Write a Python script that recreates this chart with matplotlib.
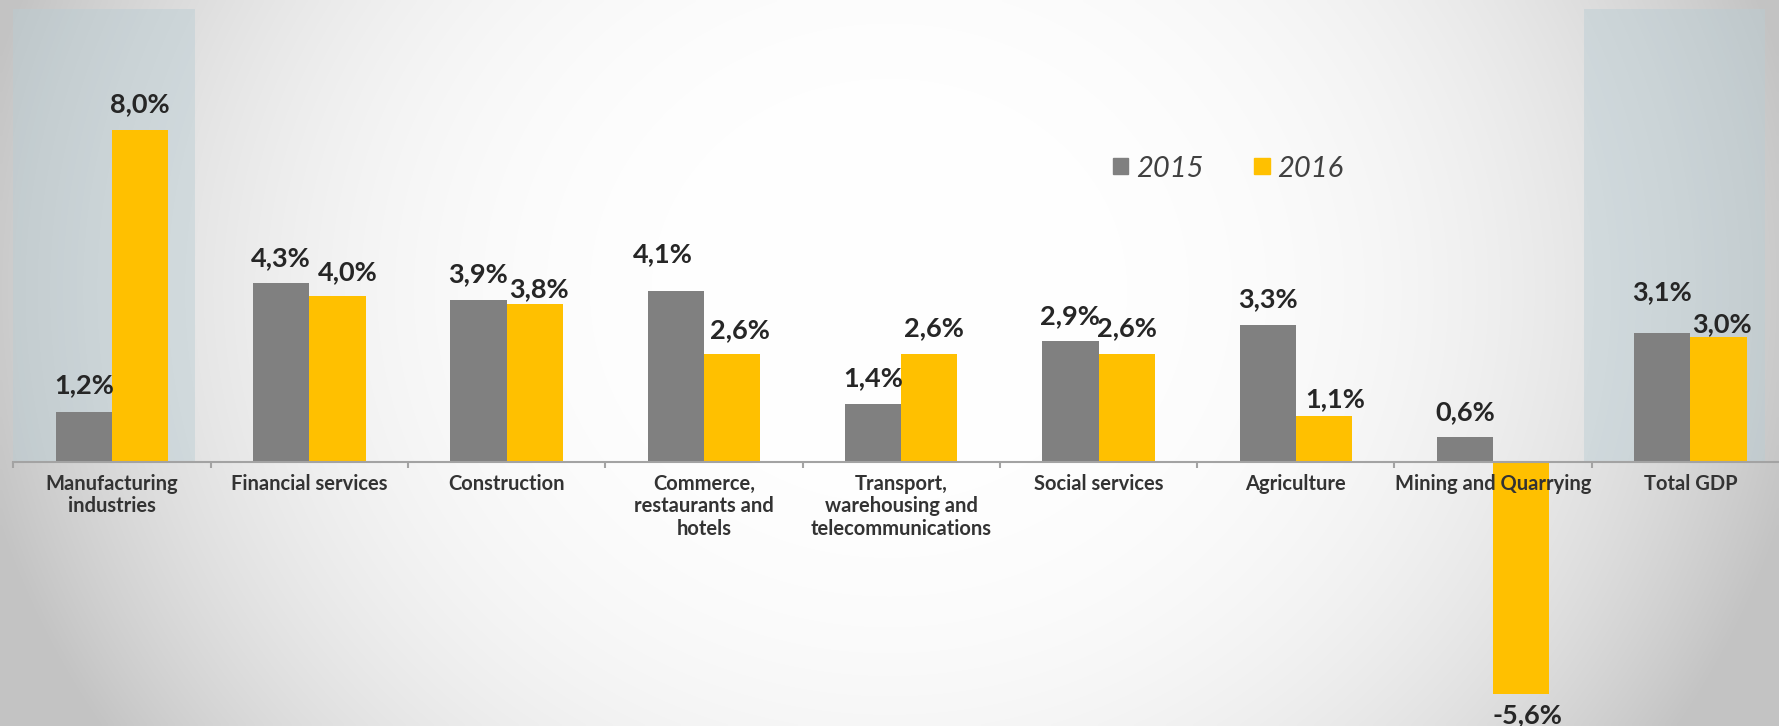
import matplotlib.pyplot as plt
import numpy as np
from matplotlib.patches import Patch, Rectangle
from matplotlib.ticker import FixedLocator

plt.rcParams["font.family"] = ["Lato", "DejaVu Sans"]

categories = [
    "Manufacturing\nindustries",
    "Financial services",
    "Construction",
    "Commerce,\nrestaurants and\nhotels",
    "Transport,\nwarehousing and\ntelecommunications",
    "Social services",
    "Agriculture",
    "Mining and Quarrying",
    "Total GDP",
]
growth_2015 = [1.2, 4.3, 3.9, 4.1, 1.4, 2.9, 3.3, 0.6, 3.1]
growth_2016 = [8.0, 4.0, 3.8, 2.6, 2.6, 2.6, 1.1, -5.6, 3.0]
years = ["2015", "2016"]
highlighted = [0, 8]

# layout (pixels) -- labels were nudged by hand in the original
off_2015 = [(0, 19), (0, 17), (0, 18), (-13, 29), (0, 17), (0, 17), (0, 18), (0, 17), (0, 33)]
off_2016 = [(0, 17.5), (10, 15), (4, 7), (8, 16), (5, 18), (0, 18), (11, 9), (6, -29), (3, 5)]
hl_span = [(-0.5, 0.42), (-0.54, 0.38)]

W, H = 1779, 726
cat_px, x0_px = 197.3, 112.0   # category width, centre of first category
zero_px, unit_px = 461.6, 41.5  # y of zero line, pixels per 1 %

gray, yellow = "#808080", "#FFC000"
txt = "#262626"

fig = plt.figure(figsize=(W / 100, H / 100), dpi=100)

# vignette background
bg = fig.add_axes([0, 0, 1, 1], zorder=-5)
xx, yy = np.meshgrid(np.linspace(0, 1, 400), np.linspace(0, 1, 200))
dx = (xx - 0.5) / 0.5
dy = (yy - 0.4) / 0.6
r = np.sqrt(dx**2 + 0.3 * dy**2)
v = (255 - 52 * np.minimum(r**3, 1.15)) / 255
bg.imshow(np.dstack([v, v, v]), extent=[0, 1, 1, 0], aspect="auto", interpolation="bilinear")
bg.axis("off")

ax = fig.add_axes([0, 0, 1, 1])
ax.patch.set_visible(False)
xl = -x0_px / cat_px
ax.set_xlim(xl, xl + W / cat_px)
ax.set_ylim(-(H - zero_px) / unit_px, zero_px / unit_px)

x = np.arange(len(categories))
bw = 0.285

# highlight boxes
for i, (a, b) in zip(highlighted, hl_span):
    ax.add_patch(Rectangle((i + a, 0), b - a, (zero_px - 9) / unit_px,
                           facecolor="#b9cdd4", alpha=0.45, edgecolor="none", zorder=0))

ax.bar(x - bw / 2, growth_2015, bw, color=gray, zorder=1, label=years[0])
ax.bar(x + bw / 2, growth_2016, bw, color=yellow, zorder=1, label=years[1])

def fmt(v):
    return f"{v:.1f}%".replace(".", ",")

for xs, vals, offs in [(x - bw / 2, growth_2015, off_2015), (x + bw / 2, growth_2016, off_2016)]:
    for xi, v, (ox, oy) in zip(xs, vals, offs):
        ax.annotate(fmt(v), (xi, v), xytext=(ox, oy), textcoords="offset pixels",
                    ha="center", va="baseline", fontsize=19.5, fontweight="bold",
                    color=txt, zorder=5)

# axis
for s in ["left", "right", "top"]:
    ax.spines[s].set_visible(False)
ax.spines["bottom"].set_position(("data", 0))
ax.spines["bottom"].set_bounds(-0.5, len(categories) + 0.5)
ax.spines["bottom"].set_color("#a3a3a3")
ax.spines["bottom"].set_linewidth(1.5)
ax.spines["bottom"].set_zorder(3)
ax.xaxis.set_zorder(4)
ax.set_yticks([])
ax.set_xticks(x)
ax.set_xticklabels(categories, fontsize=14.5, fontweight="bold", color="#333333", linespacing=1.15)
ax.tick_params(axis="x", which="major", length=0, pad=9)
ax.xaxis.set_minor_locator(FixedLocator(np.arange(len(categories) + 1) - 0.5))
ax.tick_params(axis="x", which="minor", length=4, width=1.5, color="#a3a3a3", direction="out")

handles = [Patch(color=gray), Patch(color=yellow)]
ax.legend(handles, years, loc="center left", bbox_to_anchor=(1113 / W, 1 - 168.7 / H),
          bbox_transform=fig.transFigure, ncol=2, frameon=False, borderpad=0, borderaxespad=0,
          handlelength=0.53, handleheight=0.45, handletextpad=0.25, columnspacing=1.75,
          prop={"family": "Lato", "style": "italic", "size": 21}, labelcolor="#404040")

fig.savefig("out.png", dpi=100)
